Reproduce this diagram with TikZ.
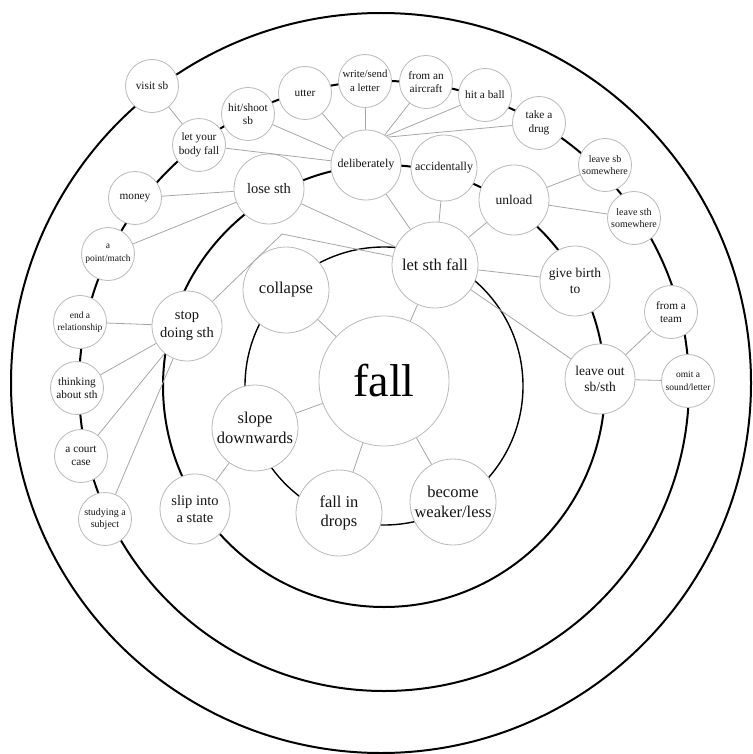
\documentclass[tikz,border=0pt]{standalone}
\usepackage{fontspec}
\setmainfont{Liberation Serif}

\begin{document}
\begin{tikzpicture}[x=1pt,y=-1pt,
    ring/.style={black,line width=2pt},
    link/.style={gray!70,line width=0.8pt},
    word/.style={circle,draw=gray!55,line width=0.8pt,fill=white,inner sep=0pt,align=center,text=black!92},
    bigword/.style={word,minimum size=86pt,font=\fontsize{16.5}{19.5}\selectfont},
    midword/.style={word,minimum size=70pt,font=\fontsize{14.5}{17.5}\selectfont},
    smallword/.style={word,minimum size=53pt,font=\fontsize{11.3}{13.5}\selectfont}]
\useasboundingbox (0,0) rectangle (752,754);

% the rings
\draw[ring] (381,383) circle (370pt);
\draw[ring] (384,386) circle (305pt);
\draw[ring] (384,386) circle (221pt);
\draw[ring,line width=1.4pt] (384,386) circle (139pt);

% centre
\node[word,minimum size=130pt,text=black,font=\fontsize{46}{50}\selectfont] (fall) at (384,381) {fall};

\node[bigword] (collapse) at (286,290) {collapse};
\node[bigword] (letfall) at (435,265) {let sth fall};
\node[bigword] (slope) at (255,428) {slope\\downwards};
\node[bigword] (drops) at (339,513) {fall in\\drops};
\node[bigword] (weaker) at (453,502) {become\\weaker/less};

\node[midword] (slip) at (195,509) {slip into\\a state};
\node[midword] (stop) at (187,326) {stop\\doing sth};
\node[midword] (lose) at (269,189) {lose sth};
\node[midword,font=\fontsize{12}{14}\selectfont] (delib) at (366,165) {deliberately};
\node[midword,minimum size=66pt,font=\fontsize{12}{14}\selectfont] (accid) at (444,168) {accidentally};
\node[midword,font=\fontsize{13.5}{16}\selectfont] (unload) at (514,200) {unload};
\node[midword,font=\fontsize{13.5}{16.5}\selectfont] (birth) at (575,281) {give birth\\to};
\node[midword,font=\fontsize{13.5}{16.5}\selectfont] (leaveout) at (600,379) {leave out\\sb/sth};

\node[smallword] (visit) at (152,86) {visit sb};
\node[smallword] (bodyfall) at (199,145) {let your\\body fall};
\node[smallword] (hitshoot) at (248,114) {hit/shoot\\sb};
\node[smallword] (utter) at (305,93) {utter};
\node[smallword,font=\fontsize{10.8}{13.5}\selectfont] (write) at (365,81) {write/send\\a letter};
\node[smallword] (aircraft) at (426,82) {from an\\aircraft};
\node[smallword] (ball) at (485,95) {hit a ball};
\node[smallword] (drug) at (539,123) {take a\\drug};
\node[smallword,font=\fontsize{10}{12.5}\selectfont] (leavesb) at (605,165) {leave sb\\somewhere};
\node[smallword,font=\fontsize{10}{12.5}\selectfont] (leavesth) at (634,218) {leave sth\\somewhere};
\node[smallword] (team) at (671,312) {from a\\team};
\node[smallword,font=\fontsize{9.5}{12.5}\selectfont] (omit) at (688,381) {omit a\\sound/letter};
\node[smallword] (money) at (135,198) {money};
\node[smallword,font=\fontsize{9.5}{12.5}\selectfont] (point) at (108,254) {a\\point/match};
\node[smallword,font=\fontsize{9.5}{12.5}\selectfont] (endrel) at (80,322) {end a\\relationship};
\node[smallword] (thinking) at (77,388) {thinking\\about sth};
\node[smallword] (court) at (81,456) {a court\\case};
\node[smallword,font=\fontsize{10}{12.5}\selectfont] (studying) at (105,519) {studying a\\subject};

% links
\foreach \n in {collapse,letfall,slope,drops,weaker}
  \draw[link] (fall) -- (\n);
\draw[link] (slope) -- (slip);
\foreach \n in {delib,accid,unload,birth,leaveout,lose}
  \draw[link] (letfall) -- (\n);
\coordinate (bend) at (282,234);
\draw[link] (stop) -- (bend) -- (letfall);
\foreach \n in {bodyfall,hitshoot,utter,write}
  \draw[link] (delib) -- (\n);
\draw[link] (delib.58) -- (aircraft);
\draw[link] (delib.55) -- (ball);
\draw[link] (delib.52) -- (drug);
\draw[link] (visit) -- (bodyfall);
\draw[link] (lose) -- (money);
\draw[link] (lose) -- (point);
\foreach \n in {endrel,thinking,court,studying}
  \draw[link] (stop) -- (\n);
\draw[link] (unload) -- (leavesb);
\draw[link] (unload) -- (leavesth);
\draw[link] (leaveout) -- (team);
\draw[link] (leaveout) -- (omit);

\end{tikzpicture}
\end{document}
